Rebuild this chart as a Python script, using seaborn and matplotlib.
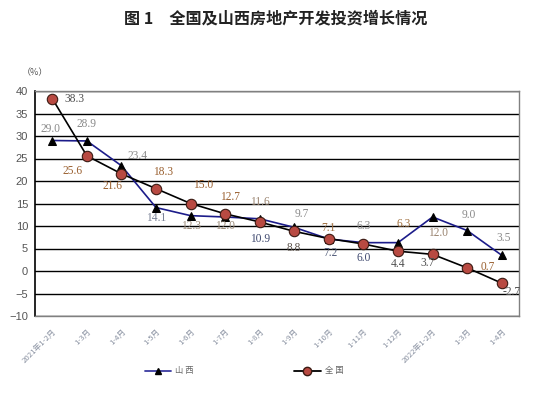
import numpy as np
import pandas as pd
import matplotlib
matplotlib.use("Agg")
import matplotlib.pyplot as plt
import seaborn as sns
from matplotlib.lines import Line2D

months = ["2021年1-2月", "1-3月", "1-4月", "1-5月", "1-6月", "1-7月", "1-8月",
          "1-9月", "1-10月", "1-11月", "1-12月", "2022年1-2月", "1-3月", "1-4月"]
shanxi = [29.0, 28.9, 23.4, 14.1, 12.3, 12.0, 11.6, 9.7, 7.1, 6.3, 6.3, 12.0, 9.0, 3.5]
national = [38.3, 25.6, 21.6, 18.3, 15.0, 12.7, 10.9, 8.8, 7.2, 6.0, 4.4, 3.7, 0.7, -2.7]
series_names = ["山西", "全国"]
yticks = list(range(-10, 45, 5))

# label offsets in pixels (dx, dy; dy positive = up)
shanxi_off = [(-2, 11), (0, 17), (16, 10), (0, -10), (0, -10), (0, -9), (0, 17), (8, 13),
              (0, 11), (0, 17), (6, 19), (5, -16), (2, 16), (2, 17)]
national_off = [(22, 0), (-14, -15), (-9, -12), (7, 17), (13, 18), (5, 17), (0, -17), (0, -17),
                (2, -14), (0, -14), (0, -13), (-5, -9), (21, 1), (10, -9)]
shanxi_lc = ["#8a8a8a", "#8a8a8a", "#8a8a8a", "#7a8296", "#9a8a78", "#9a8a78", "#9a8470", "#8a8a8a",
             "#a07040", "#8a8a8a", "#a07040", "#9a8470", "#8a8a8a", "#8a8a8a"]
national_lc = ["#505050", "#9a6030", "#9a6030", "#9a6030", "#9a6030", "#9a6030", "#404a70", "#5a5048",
               "#505a78", "#404a70", "#505050", "#505050", "#9a6030", "#505050"]

sns.set_style("white")
plt.rcParams['font.family'] = ['Noto Sans CJK SC', 'DejaVu Sans']

fig = plt.figure(figsize=(5.5, 3.94), dpi=100)
ax = fig.add_axes([35/550, 1-316/394, 484/550, 225/394])

x = np.arange(len(months))
df = pd.DataFrame({"x": x, "山西": shanxi, "全国": national})

sns.lineplot(data=df, x="x", y="山西", ax=ax, color="#1c1c8a", lw=1.2,
             marker="^", markersize=6, markerfacecolor="black", markeredgecolor="black", zorder=4)
sns.lineplot(data=df, x="x", y="全国", ax=ax, color="black", lw=1.2,
             marker="o", markersize=7.5, markerfacecolor="#B84A42", markeredgecolor="#3a1a12",
             markeredgewidth=0.8, zorder=5)

ax.set_xlim(-0.5, len(months) - 0.5)
ax.set_ylim(-10, 40)
ax.set_yticks(yticks)
ax.set_yticklabels([f"{t}" if t >= 0 else f"\u2212{abs(t)}" for t in yticks],
                   fontsize=8, color="#555555", family="Liberation Sans")
for t in yticks:
    ax.axhline(t, color="black", lw=1.0, zorder=1)
ax.set_xticks(x)
ax.set_xticklabels(months, rotation=45, ha="right", va="top", rotation_mode="anchor",
                   fontsize=5.6, color="#8890a0")
ax.tick_params(axis="both", length=0, pad=5)
ax.tick_params(axis="x", pad=8)
ax.set_xlabel("")
ax.set_ylabel("")
for s in ["top", "right", "bottom"]:
    ax.spines[s].set_color("#808080")
    ax.spines[s].set_linewidth(1.0)
ax.spines["left"].set_color("black")
ax.spines["left"].set_linewidth(1.2)

for i in range(len(months)):
    ax.annotate(f"{shanxi[i]:.1f}", (x[i], shanxi[i]), xytext=(shanxi_off[i][0]*0.72, shanxi_off[i][1]*0.72),
                textcoords="offset points", ha="center", va="center", fontsize=8.3,
                family="Liberation Serif", color=shanxi_lc[i], zorder=6)
    ax.annotate(f"{national[i]:.1f}", (x[i], national[i]), xytext=(national_off[i][0]*0.72, national_off[i][1]*0.72),
                textcoords="offset points", ha="center", va="center", fontsize=8.3,
                family="Liberation Serif", color=national_lc[i], zorder=6)

fig.text(276/550, 1-18/394, "图 1　全国及山西房地产开发投资增长情况", ha="center", va="center",
         fontsize=11.6, fontweight="bold", color="#222222")
fig.text(35/550, 1-73/394, "（%）", ha="center", va="center", fontsize=6.5, color="#555555")

handles = [Line2D([], [], color="#3a3aa0", lw=1.3, marker="^", markersize=5,
                  markerfacecolor="black", markeredgecolor="black"),
           Line2D([], [], color="black", lw=1.3, marker="o", markersize=6,
                  markerfacecolor="#B84A42", markeredgecolor="#3a1a12")]
leg = fig.legend(handles, ["山 西", "全 国"], loc="center", ncol=2,
                 bbox_to_anchor=(244/550, 1-371/394), frameon=False, fontsize=6,
                 handlelength=3.2, columnspacing=12, handletextpad=0.5, labelcolor="#666666")

fig.savefig("out.png", dpi=100)
